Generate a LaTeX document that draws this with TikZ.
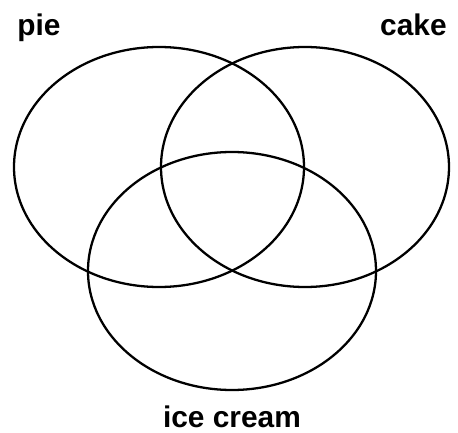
\documentclass[tikz,border=0pt]{standalone}
\usepackage{fontspec}
\setmainfont{Liberation Sans}
\usetikzlibrary{positioning}

\begin{document}
\begin{tikzpicture}[
    x=0.02cm, y=-0.02cm,
    set/.style={draw, line width=1.3pt},
    label/.style={font=\fontsize{17}{20}\selectfont\bfseries, inner sep=0pt}
]
    \useasboundingbox (0,0) rectangle (458,433);

    \draw[set] (159,167) ellipse [x radius=145, y radius=120];
    \draw[set] (305,167) ellipse [x radius=144, y radius=120];
    \draw[set] (232,271) ellipse [x radius=144, y radius=119];

    \node[label, anchor=base west] (pie) at (17,35) {pie};
    \node[label, anchor=base east] (cake) at (447,35) {cake};
    \node[label, anchor=base] (icecream) at (232,428) {ice cream};

\end{tikzpicture}
\end{document}
